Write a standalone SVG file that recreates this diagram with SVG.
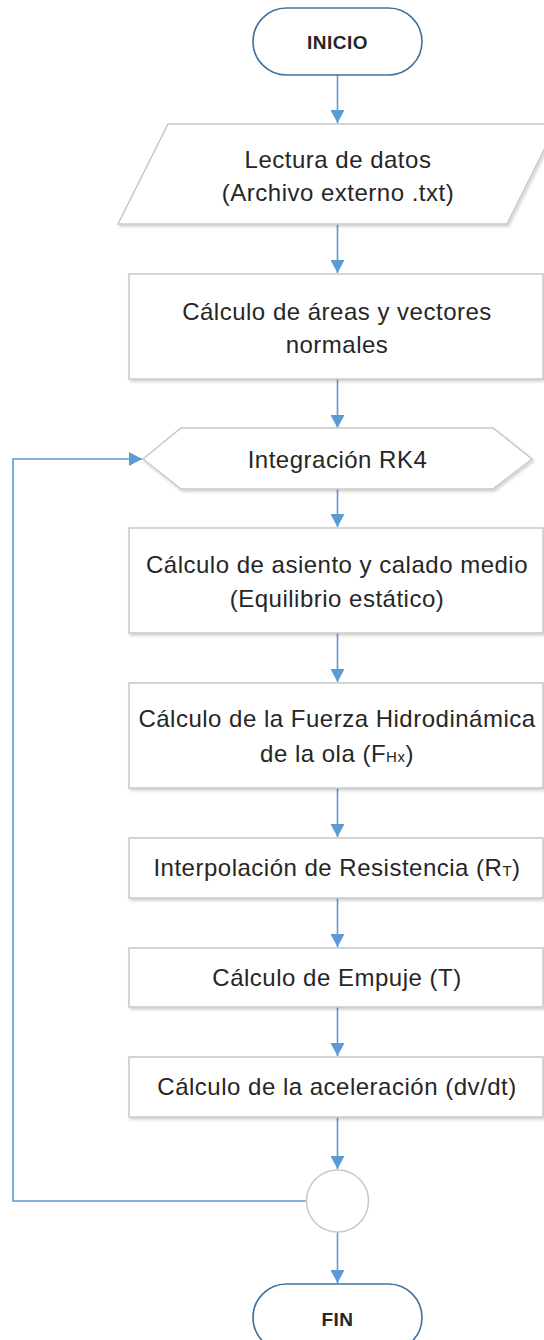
<svg xmlns="http://www.w3.org/2000/svg" width="544" height="1340" viewBox="0 0 544 1340">
<style>
.bg{fill:#ffffff}
.box{fill:#ffffff;stroke:#c8c8c8;stroke-width:1.5;filter:url(#sh)}
.term{fill:#ffffff;stroke:#41719c;stroke-width:1.6}
.t{font-family:"Liberation Sans",Arial,sans-serif;font-size:24px;fill:#262626;text-anchor:middle;letter-spacing:0.5px}
.tb{font-family:"Liberation Sans",Arial,sans-serif;font-size:19px;font-weight:bold;fill:#262626;text-anchor:middle;letter-spacing:0.5px}
.sub{font-size:15px}
.c{fill:none;stroke:#5b9bd5;stroke-width:1.6}
</style>
<defs>
<filter id="sh" x="-10%" y="-10%" width="120%" height="130%">
<feDropShadow dx="1.5" dy="2" stdDeviation="1.5" flood-color="#000000" flood-opacity="0.18"/>
</filter>
<marker id="ar" markerUnits="userSpaceOnUse" markerWidth="16" markerHeight="14" refX="13" refY="7" orient="auto">
<path d="M0,0 L13,7 L0,14 Z" fill="#5b9bd5"/>
</marker>
</defs>
<rect class="bg" x="0" y="0" width="544" height="1340"/>

<g id="connectors">
<line class="c" x1="337.5" y1="75" x2="337.5" y2="123" marker-end="url(#ar)"/>
<line class="c" x1="337.5" y1="224" x2="337.5" y2="273" marker-end="url(#ar)"/>
<line class="c" x1="337.5" y1="379" x2="337.5" y2="428" marker-end="url(#ar)"/>
<line class="c" x1="337.5" y1="489" x2="337.5" y2="527" marker-end="url(#ar)"/>
<line class="c" x1="337.5" y1="633" x2="337.5" y2="682" marker-end="url(#ar)"/>
<line class="c" x1="337.5" y1="788" x2="337.5" y2="837" marker-end="url(#ar)"/>
<line class="c" x1="337.5" y1="898" x2="337.5" y2="947" marker-end="url(#ar)"/>
<line class="c" x1="337.5" y1="1007" x2="337.5" y2="1056" marker-end="url(#ar)"/>
<line class="c" x1="337.5" y1="1117" x2="337.5" y2="1169" marker-end="url(#ar)"/>
<line class="c" x1="337.5" y1="1232" x2="337.5" y2="1283" marker-end="url(#ar)"/>
<path class="c" d="M306.5,1201 H13 V459 H142" marker-end="url(#ar)"/>
</g>

<g id="inicio">
<rect class="term" x="253" y="8" width="169" height="67" rx="33.5" ry="33.5"/>
<text class="tb" x="337.5" y="48.5">INICIO</text>
</g>

<g id="lectura">
<polygon class="box" points="168,124 557,124 507,224 118,224"/>
<text class="t" x="338" y="168">Lectura de datos</text>
<text class="t" x="338" y="201">(Archivo externo .txt)</text>
</g>

<g id="areas">
<rect class="box" x="129" y="274" width="414" height="105"/>
<text class="t" x="337" y="320">Cálculo de áreas y vectores</text>
<text class="t" x="337" y="353">normales</text>
</g>

<g id="rk4">
<polygon class="box" points="143,459 181,428 493,428 532,459 493,489 181,489"/>
<text class="t" x="337.5" y="468">Integración RK4</text>
</g>

<g id="asiento">
<rect class="box" x="129" y="528" width="414" height="105"/>
<text class="t" x="337" y="573">Cálculo de asiento y calado medio</text>
<text class="t" x="337" y="607">(Equilibrio estático)</text>
</g>

<g id="fuerza">
<rect class="box" x="129" y="683" width="414" height="105"/>
<text class="t" x="337" y="727">Cálculo de la Fuerza Hidrodinámica</text>
<text class="t" x="337" y="762">de la ola (F<tspan class="sub">Hx</tspan>)</text>
</g>

<g id="resistencia">
<rect class="box" x="129" y="838" width="414" height="60"/>
<text class="t" x="337" y="876">Interpolación de Resistencia (R<tspan class="sub">T</tspan>)</text>
</g>

<g id="empuje">
<rect class="box" x="129" y="948" width="414" height="59"/>
<text class="t" x="337" y="986">Cálculo de Empuje (T)</text>
</g>

<g id="aceleracion">
<rect class="box" x="129" y="1057" width="414" height="60"/>
<text class="t" x="337" y="1095">Cálculo de la aceleración (dv/dt)</text>
</g>

<g id="conector">
<circle cx="337.5" cy="1201" r="31" fill="#ffffff" stroke="#c8c8c8" stroke-width="1.5"/>
</g>

<g id="fin">
<rect class="term" x="253" y="1284" width="169" height="67" rx="33.5" ry="33.5"/>
<text class="tb" x="337.5" y="1326">FIN</text>
</g>
</svg>
